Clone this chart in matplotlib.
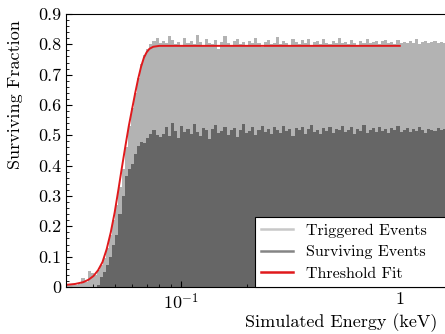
import numpy as np
import matplotlib
matplotlib.use("Agg")
import matplotlib.pyplot as plt
from matplotlib.lines import Line2D
from matplotlib.ticker import FixedLocator, FuncFormatter, MultipleLocator

plt.rcParams["font.family"] = "serif"
plt.rcParams["font.serif"] = ["cmr10", "DejaVu Serif"]
plt.rcParams["mathtext.fontset"] = "cm"
plt.rcParams["axes.formatter.use_mathtext"] = True

###########################################
#              data
###########################################
e_min, e_max, n_bins = 0.03, 1.73, 125

# triggered fraction per log bin
triggered = [
    0.006, 0.007, 0.008, 0.006, 0.010, 0.030, 0.015, 0.053, 0.045, 0.040,
    0.056, 0.072, 0.095, 0.130, 0.170, 0.220, 0.270, 0.330, 0.390, 0.460,
    0.530, 0.590, 0.640, 0.690, 0.735, 0.765, 0.785, 0.800, 0.810, 0.822,
    0.805,
    0.812, 0.806, 0.828, 0.815, 0.801, 0.809, 0.798, 0.822, 0.803, 0.811,
    0.800, 0.832, 0.808, 0.795, 0.819, 0.805, 0.801, 0.814, 0.786, 0.808,
    0.826, 0.804, 0.799, 0.810, 0.818, 0.800, 0.807, 0.797, 0.812, 0.803,
    0.821, 0.805, 0.790, 0.809, 0.815, 0.802, 0.806, 0.824, 0.800, 0.811,
    0.803, 0.796, 0.817, 0.808, 0.801, 0.813, 0.805, 0.819, 0.799, 0.807,
    0.811, 0.802, 0.816, 0.806, 0.800, 0.812, 0.804, 0.820, 0.803, 0.809,
    0.801, 0.814, 0.806, 0.798, 0.811, 0.805, 0.817, 0.803, 0.808, 0.812,
    0.800, 0.810, 0.815, 0.804, 0.807, 0.802, 0.813, 0.806, 0.809, 0.803,
    0.811, 0.805, 0.816, 0.801, 0.808, 0.812, 0.804, 0.807, 0.810, 0.803,
    0.809, 0.806, 0.812, 0.805,
]

# surviving fraction per log bin
surviving = [
    0, 0, 0, 0, 0, 0, 0, 0, 0, 0,
    0.007, 0.033, 0.050, 0.072, 0.100, 0.140, 0.170, 0.240, 0.300, 0.365,
    0.390, 0.405, 0.440, 0.465, 0.478, 0.475, 0.490, 0.505, 0.517, 0.500,
    0.495,
    0.505, 0.528, 0.498, 0.540, 0.515, 0.492, 0.531, 0.510, 0.522, 0.503,
    0.536, 0.512, 0.497, 0.525, 0.518, 0.488, 0.520, 0.533, 0.507, 0.515,
    0.529, 0.501, 0.516, 0.523, 0.495, 0.519, 0.538, 0.509, 0.514, 0.526,
    0.500, 0.518, 0.530, 0.511, 0.522, 0.504, 0.527, 0.516, 0.508, 0.532,
    0.513, 0.521, 0.499, 0.524, 0.517, 0.528, 0.506, 0.520, 0.535, 0.512,
    0.518, 0.503, 0.525, 0.514, 0.529, 0.508, 0.522, 0.516, 0.531, 0.510,
    0.519, 0.526, 0.505, 0.521, 0.513, 0.534, 0.509, 0.518, 0.524, 0.511,
    0.527, 0.515, 0.520, 0.507, 0.523, 0.516, 0.530, 0.512, 0.519, 0.525,
    0.510, 0.521, 0.514, 0.528, 0.517, 0.509, 0.522, 0.518, 0.513, 0.524,
    0.516, 0.520, 0.511, 0.519,
]

# threshold fit curve
fit_energy = [0.030, 0.033, 0.036, 0.038, 0.040, 0.042, 0.044, 0.046, 0.048,
              0.050, 0.052, 0.054, 0.056, 0.058, 0.060, 0.062, 0.064, 0.066,
              0.068, 0.070, 0.072, 0.075, 0.080, 0.090, 1.000]
fit_frac = [0.007, 0.010, 0.016, 0.024, 0.036, 0.055, 0.082, 0.125, 0.180,
            0.245, 0.320, 0.395, 0.465, 0.530, 0.585, 0.638, 0.686, 0.726,
            0.756, 0.774, 0.785, 0.792, 0.795, 0.795, 0.795]

c_trig = "#b3b3b3"
c_surv = "#666666"
c_fit = "#e0191c"

###########################################
#              plot
###########################################
fig = plt.figure(figsize=(4.45, 3.34), dpi=100)
ax = fig.add_axes([66 / 445, 47 / 334, 386 / 445, 273 / 334])

edges = np.logspace(np.log10(e_min), np.log10(e_max), n_bins + 1)
ax.stairs(triggered, edges, fill=True, color=c_trig, lw=0)
ax.stairs(surviving, edges, fill=True, color=c_surv, lw=0)
ax.plot(fit_energy, fit_frac, color=c_fit, lw=1.4)

ax.set_xscale("log")
ax.set_xlim(e_min, e_max)
ax.set_ylim(0, 0.9)

ax.xaxis.set_major_locator(FixedLocator([0.1, 1.0]))
ax.xaxis.set_major_formatter(FuncFormatter(lambda v, p: r"$10^{-1}$" if v < 0.5 else "1"))
ax.xaxis.set_minor_locator(FixedLocator([0.04, 0.05, 0.06, 0.07, 0.08, 0.09,
                                         0.2, 0.3, 0.4, 0.5, 0.6, 0.7, 0.8, 0.9]))
ax.yaxis.set_major_locator(MultipleLocator(0.1))
ax.yaxis.set_minor_locator(MultipleLocator(0.02))
ax.yaxis.set_major_formatter(FuncFormatter(lambda v, p: "0" if abs(v) < 1e-9 else f"{v:.1f}"))

ax.tick_params(which="both", direction="in", top=False, right=True, labelsize=13)
ax.tick_params(which="major", length=4)
ax.tick_params(which="minor", length=2.2)

ax.set_xlabel("Simulated Energy (keV)", fontsize=13, loc="right")
ax.set_ylabel("Surviving Fraction", fontsize=13, loc="top")
ax.xaxis.set_label_coords(0.961, -0.095)
ax.yaxis.set_label_coords(-0.111, 0.978)

handles = [Line2D([], [], color="#c8c8c8", lw=1.8),
           Line2D([], [], color="#858585", lw=1.8),
           Line2D([], [], color=c_fit, lw=1.8)]
labels = ["Triggered Events", "Surviving Events", "Threshold Fit"]
# legend runs off the right edge of the figure, as in the original
leg = ax.legend(handles, labels, loc="lower left", mode="expand",
                bbox_to_anchor=((255 - 66) / 386, 0, 0.56, 0.25),
                borderaxespad=0, fontsize=11.5, fancybox=False, framealpha=1,
                edgecolor="black", handlelength=2.0, labelspacing=0.45)
leg.get_frame().set_linewidth(0.8)

fig.savefig("out.png", dpi=100)
